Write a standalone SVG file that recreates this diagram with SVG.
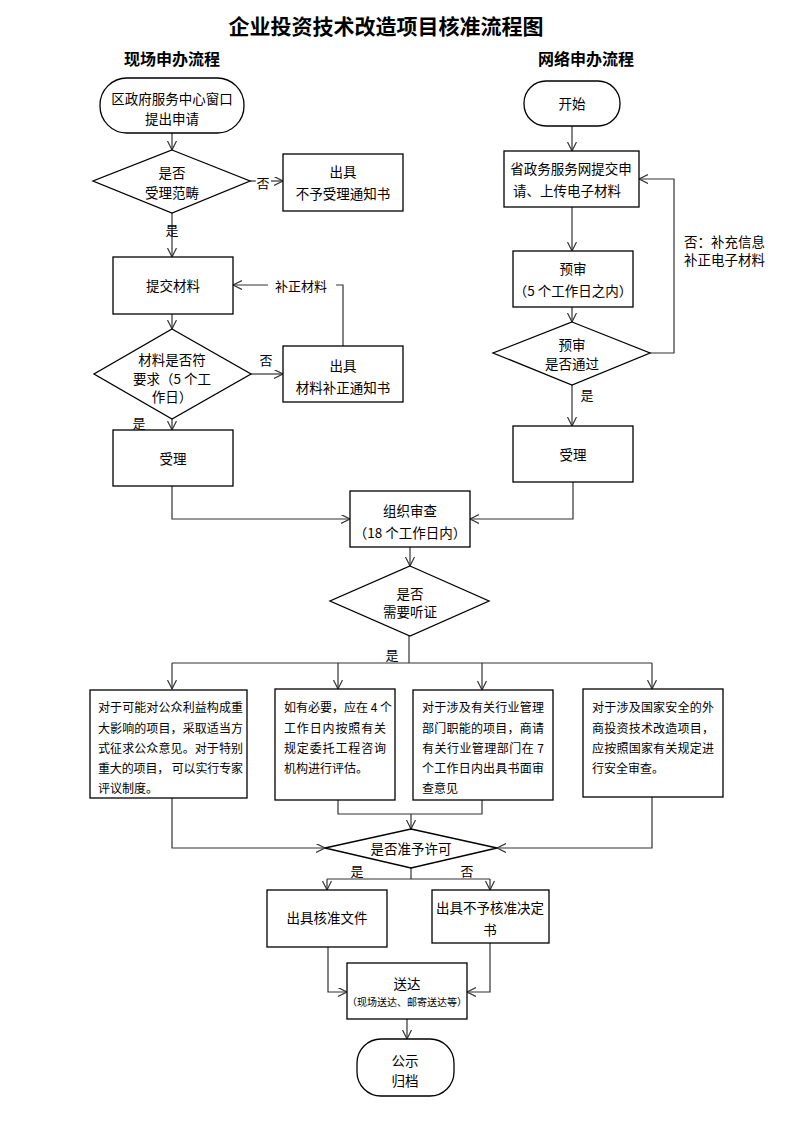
<svg xmlns="http://www.w3.org/2000/svg" width="792" height="1122" viewBox="0 0 792 1122">
<defs>
<marker id="arr" markerUnits="userSpaceOnUse" markerWidth="12" markerHeight="12" refX="9" refY="4.5" orient="auto">
<path d="M0,0 L9,4.5 L0,9" fill="none" stroke="#333" stroke-width="1.2"/>
</marker>
<style>
text{font-family:"Noto Sans CJK SC","Noto Sans",sans-serif;fill:#000;}
.t{font-size:13.5px;text-anchor:middle;dominant-baseline:central;}
.s{font-size:12px;dominant-baseline:central;}
.lb{font-size:13px;text-anchor:middle;dominant-baseline:central;}
.shape{fill:#fff;stroke:#000;stroke-width:1.3;}
.c{fill:none;stroke:#333;stroke-width:1.2;}
.ca{fill:none;stroke:#333;stroke-width:1.2;marker-end:url(#arr);}
</style>
</defs>
<rect width="792" height="1122" fill="#fff"/>
<text x="386" y="25" style="font-size:21px;font-weight:700;text-anchor:middle;dominant-baseline:central;">企业投资技术改造项目核准流程图</text>
<text x="172" y="58" style="font-size:16px;font-weight:700;text-anchor:middle;dominant-baseline:central;">现场申办流程</text>
<text x="586" y="58" style="font-size:16px;font-weight:700;text-anchor:middle;dominant-baseline:central;">网络申办流程</text>

<g id="connectors">
<path class="ca" d="M172,133 V150"/>
<path class="c" d="M250,181 H256"/>
<path class="ca" d="M271,181 H283"/>
<path class="ca" d="M172,213 V257"/>
<path class="c" d="M343,347 V285 H336"/>
<path class="ca" d="M268,285 H233"/>
<path class="ca" d="M172,314 V329"/>
<path class="ca" d="M251,374 H283"/>
<path class="ca" d="M172,419 V430"/>
<path class="ca" d="M172,486 V519 H350"/>
<path class="ca" d="M572,126 V151"/>
<path class="ca" d="M572,207 V251"/>
<path class="ca" d="M572,307 V322"/>
<path class="ca" d="M650,353 H674 V179 H639"/>
<path class="ca" d="M572,385 V426"/>
<path class="ca" d="M573,482 V519 H470"/>
<path class="ca" d="M410,547 V566"/>
<path class="c" d="M409,636 V663"/>
<path class="c" d="M172,663 H652"/>
<path class="ca" d="M172,663 V689"/>
<path class="ca" d="M338,663 V689"/>
<path class="ca" d="M482,663 V690"/>
<path class="ca" d="M652,663 V689"/>
<path class="ca" d="M172,798 V848 H325"/>
<path class="c" d="M338,800 V814 H482 V800"/>
<path class="ca" d="M411,814 V829"/>
<path class="ca" d="M652,797 V848 H497"/>
<path class="c" d="M411,868 V879"/>
<path class="c" d="M327,879 H490"/>
<path class="ca" d="M327,879 V890"/>
<path class="ca" d="M490,879 V890"/>
<path class="ca" d="M328,947 V992 H347"/>
<path class="ca" d="M490,943 V992 H467"/>
<path class="ca" d="M407,1019 V1039"/>
<text class="lb" x="263" y="182">否</text>
<text class="lb" x="172" y="229">是</text>
<text class="lb" x="301" y="285">补正材料</text>
<text class="lb" x="266" y="359">否</text>
<text class="lb" x="139" y="422">是</text>
<text class="lb" x="587" y="394">是</text>
<text x="684" y="241" style="font-size:13.5px;dominant-baseline:central;">否：补充信息</text>
<text x="684" y="259" style="font-size:13.5px;dominant-baseline:central;">补正电子材料</text>
<text class="lb" x="392" y="654">是</text>
<text class="lb" x="357" y="870">是</text>
<text class="lb" x="467" y="870">否</text>
</g>

<g id="n_start_left">
<rect class="shape" x="100" y="78" width="144" height="55" rx="27" ry="27"/>
<text class="t" x="172" y="98">区政府服务中心窗口</text>
<text class="t" x="172" y="118">提出申请</text>
</g>
<g id="n_dec_scope">
<polygon class="shape" points="172,150 250,181 172,213 93,181"/>
<text class="t" x="172" y="172">是否</text>
<text class="t" x="172" y="192">受理范畴</text>
</g>
<g id="n_reject_notice">
<rect class="shape" x="283" y="154" width="120" height="57"/>
<text class="t" x="343" y="171">出具</text>
<text class="t" x="343" y="193">不予受理通知书</text>
</g>
<g id="n_submit">
<rect class="shape" x="113" y="257" width="120" height="57"/>
<text class="t" x="173" y="285">提交材料</text>
</g>
<g id="n_dec_material">
<polygon class="shape" points="172,329 251,374 172,419 94,374"/>
<text class="t" x="172" y="359">材料是否符</text>
<text class="t" x="172" y="378">要求（5 个工</text>
<text class="t" x="172" y="396">作日）</text>
</g>
<g id="n_correct_notice">
<rect class="shape" x="283" y="346" width="120" height="56"/>
<text class="t" x="343" y="365">出具</text>
<text class="t" x="343" y="387">材料补正通知书</text>
</g>
<g id="n_accept_left">
<rect class="shape" x="113" y="430" width="120" height="56"/>
<text class="t" x="173" y="458">受理</text>
</g>

<g id="n_start_right">
<rect class="shape" x="524" y="81" width="96" height="45" rx="22" ry="22"/>
<text class="t" x="572" y="103">开始</text>
</g>
<g id="n_online_submit">
<rect class="shape" x="504" y="151" width="135" height="56"/>
<text class="t" x="571" y="168">省政务服务网提交申</text>
<text class="t" x="567" y="190">请、上传电子材料</text>
</g>
<g id="n_prereview">
<rect class="shape" x="513" y="251" width="120" height="56"/>
<text class="t" x="573" y="268">预审</text>
<text class="t" x="573" y="290">（5 个工作日之内）</text>
</g>
<g id="n_dec_prereview">
<polygon class="shape" points="572,322 650,353 572,385 493,353"/>
<text class="t" x="572" y="344">预审</text>
<text class="t" x="572" y="363">是否通过</text>
</g>
<g id="n_accept_right">
<rect class="shape" x="513" y="426" width="120" height="56"/>
<text class="t" x="573" y="454">受理</text>
</g>

<g id="n_review">
<rect class="shape" x="350" y="491" width="120" height="56"/>
<text class="t" x="410" y="510">组织审查</text>
<text class="t" x="410" y="532">（18 个工作日内）</text>
</g>
<g id="n_dec_hearing">
<polygon class="shape" points="410,566 489,601 410,636 330,601"/>
<text class="t" x="410" y="593">是否</text>
<text class="t" x="410" y="611">需要听证</text>
</g>

<g id="n_box_a">
<rect class="shape" x="90" y="690" width="157" height="108"/>
<text class="s" x="98" y="706" textLength="145" lengthAdjust="spacing">对于可能对公众利益构成重</text>
<text class="s" x="98" y="727" textLength="145" lengthAdjust="spacing">大影响的项目，采取适当方</text>
<text class="s" x="98" y="747" textLength="145" lengthAdjust="spacing">式征求公众意见。对于特别</text>
<text class="s" x="98" y="767" textLength="145" lengthAdjust="spacing">重大的项目， 可以实行专家</text>
<text class="s" x="98" y="787">评议制度。</text>
</g>
<g id="n_box_b">
<rect class="shape" x="275" y="689" width="120" height="111"/>
<text class="s" x="284" y="706">如有必要，应在 4 个</text>
<text class="s" x="284" y="727" textLength="102" lengthAdjust="spacing">工作日内按照有关</text>
<text class="s" x="284" y="747" textLength="102" lengthAdjust="spacing">规定委托工程咨询</text>
<text class="s" x="284" y="767">机构进行评估。</text>
</g>
<g id="n_box_c">
<rect class="shape" x="413" y="690" width="140" height="110"/>
<text class="s" x="422" y="706" textLength="122" lengthAdjust="spacing">对于涉及有关行业管理</text>
<text class="s" x="422" y="727" textLength="122" lengthAdjust="spacing">部门职能的项目，商请</text>
<text class="s" x="422" y="747" textLength="122" lengthAdjust="spacing">有关行业管理部门在 7</text>
<text class="s" x="422" y="767" textLength="122" lengthAdjust="spacing">个工作日内出具书面审</text>
<text class="s" x="422" y="787">查意见</text>
</g>
<g id="n_box_d">
<rect class="shape" x="583" y="689" width="140" height="108"/>
<text class="s" x="592" y="706" textLength="122" lengthAdjust="spacing">对于涉及国家安全的外</text>
<text class="s" x="592" y="727" textLength="122" lengthAdjust="spacing">商投资技术改造项目，</text>
<text class="s" x="592" y="747" textLength="122" lengthAdjust="spacing">应按照国家有关规定进</text>
<text class="s" x="592" y="767">行安全审查。</text>
</g>

<g id="n_dec_permit">
<polygon class="shape" points="411,829 497,848 411,868 325,848"/>
<text class="t" x="411" y="848">是否准予许可</text>
</g>
<g id="n_approve">
<rect class="shape" x="267" y="890" width="120" height="57"/>
<text class="t" x="327" y="917">出具核准文件</text>
</g>
<g id="n_deny">
<rect class="shape" x="432" y="890" width="117" height="53"/>
<text class="t" x="490" y="907">出具不予核准决定</text>
<text class="t" x="490" y="929">书</text>
</g>
<g id="n_deliver">
<rect class="shape" x="347" y="963" width="120" height="56"/>
<text class="t" x="407" y="983">送达</text>
<text x="407" y="1001" style="font-size:10px;text-anchor:middle;dominant-baseline:central;">（现场送达、邮寄送达等）</text>
</g>
<g id="n_archive">
<rect class="shape" x="357" y="1039" width="97" height="57" rx="24" ry="24"/>
<text class="t" x="405" y="1060">公示</text>
<text class="t" x="405" y="1080">归档</text>
</g>
</svg>
